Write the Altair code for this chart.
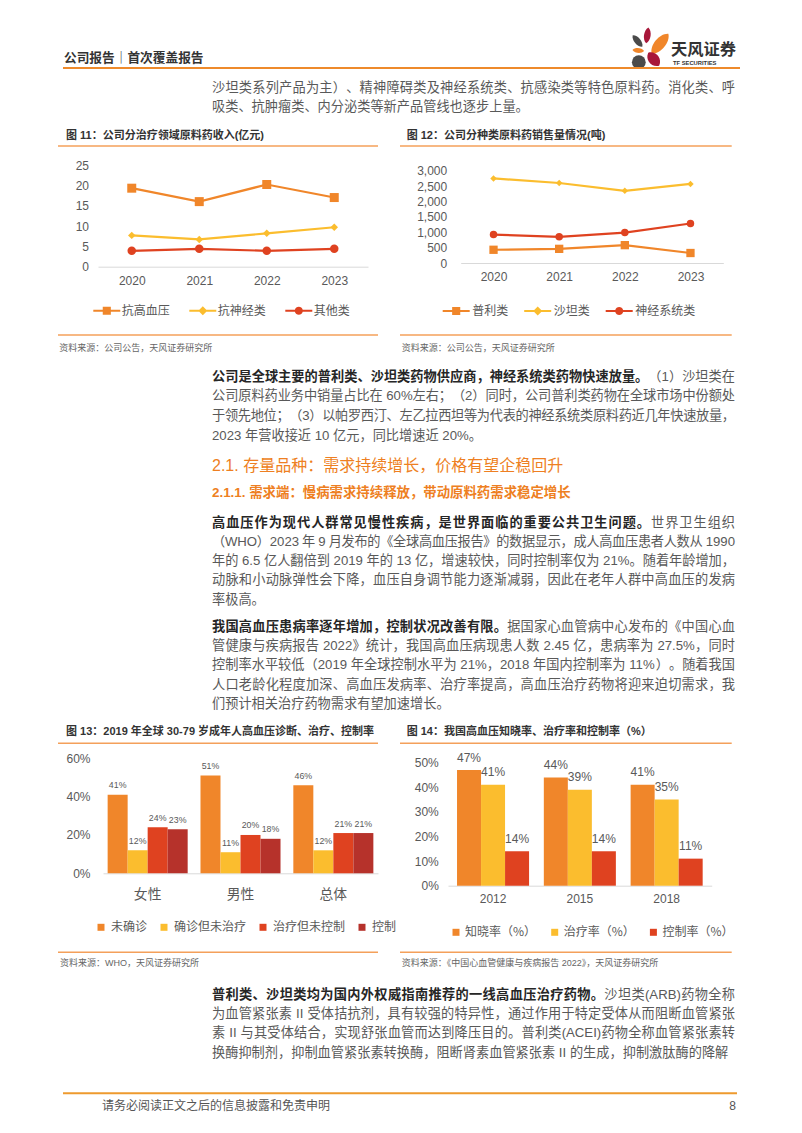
import altair as alt
import pandas as pd

# ---------------- data ----------------
years_11 = ["2020", "2021", "2022", "2023"]
series_11 = ["抗高血压", "抗神经类", "其他类"]
antihyp_11 = [19.3, 16.0, 20.2, 17.0]
antineuro_11 = [7.7, 6.7, 8.2, 9.7]
other_11 = [3.9, 4.4, 3.9, 4.4]

years_12 = ["2020", "2021", "2022", "2023"]
series_12 = ["普利类", "沙坦类", "神经系统类"]
pril_12 = [430, 460, 580, 325]
sartan_12 = [2750, 2600, 2345, 2570]
neuro_12 = [925, 850, 990, 1285]

groups_13 = ["女性", "男性", "总体"]
series_13 = ["未确诊", "确诊但未治疗", "治疗但未控制", "控制"]
undiag_13 = [41, 51, 46]
untreated_13 = [12, 11, 12]
uncontrolled_13 = [24, 20, 21]
controlled_13 = [23, 18, 21]

years_14 = ["2012", "2015", "2018"]
series_14 = ["知晓率（%）", "治疗率（%）", "控制率（%）"]
aware_14 = [47, 44, 41]
treat_14 = [41, 39, 35]
control_14 = [14, 14, 11]

# ---------------- text ----------------
HEADER = "公司报告｜首次覆盖报告"
LOGO_CN = "天风证券"
LOGO_EN = "TF SECURITIES"
TITLE_11 = "图 11：公司分治疗领域原料药收入(亿元)"
TITLE_12 = "图 12：公司分种类原料药销售量情况(吨)"
TITLE_13 = "图 13：2019 年全球 30-79 岁成年人高血压诊断、治疗、控制率"
TITLE_14 = "图 14：我国高血压知晓率、治疗率和控制率（%）"
SRC_11 = "资料来源：公司公告，天风证券研究所"
SRC_12 = "资料来源：公司公告，天风证券研究所"
SRC_13 = "资料来源：WHO，天风证券研究所"
SRC_14 = "资料来源：《中国心血管健康与疾病报告 2022》，天风证券研究所"
HEAD_21 = "2.1. 存量品种：需求持续增长，价格有望企稳回升"
HEAD_211 = "2.1.1. 需求端：慢病需求持续释放，带动原料药需求稳定增长"
FOOTER = "请务必阅读正文之后的信息披露和免责申明"
PAGE_NO = "8"

PARA_1 = ["沙坦类系列产品为主）、精神障碍类及神经系统类、抗感染类等特色原料药。消化类、呼",
          "吸类、抗肿瘤类、内分泌类等新产品管线也逐步上量。"]
PARA_2 = [("公司是全球主要的普利类、沙坦类药物供应商，神经系统类药物快速放量。", "（1）沙坦类在"),
          "公司原料药业务中销量占比在 60%左右；（2）同时，公司普利类药物在全球市场中份额处",
          "于领先地位；（3）以帕罗西汀、左乙拉西坦等为代表的神经系统类原料药近几年快速放量，",
          "2023 年营收接近 10 亿元，同比增速近 20%。"]
PARA_3 = [("高血压作为现代人群常见慢性疾病，是世界面临的重要公共卫生问题。", "世界卫生组织"),
          "（WHO）2023 年 9 月发布的《全球高血压报告》的数据显示，成人高血压患者人数从 1990",
          "年的 6.5 亿人翻倍到 2019 年的 13 亿，增速较快，同时控制率仅为 21%。随着年龄增加，",
          "动脉和小动脉弹性会下降，血压自身调节能力逐渐减弱，因此在老年人群中高血压的发病",
          "率极高。"]
PARA_4 = [("我国高血压患病率逐年增加，控制状况改善有限。", "据国家心血管病中心发布的《中国心血"),
          "管健康与疾病报告 2022》统计，我国高血压病现患人数 2.45 亿，患病率为 27.5%，同时",
          "控制率水平较低（2019 年全球控制水平为 21%，2018 年国内控制率为 11%）。随着我国",
          "人口老龄化程度加深、高血压发病率、治疗率提高，高血压治疗药物将迎来迫切需求，我",
          "们预计相关治疗药物需求有望加速增长。"]
PARA_5 = [("普利类、沙坦类均为国内外权威指南推荐的一线高血压治疗药物。", "沙坦类(ARB)药物全称"),
          "为血管紧张素 II 受体拮抗剂，具有较强的特异性，通过作用于特定受体从而阻断血管紧张",
          "素 II 与其受体结合，实现舒张血管而达到降压目的。普利类(ACEI)药物全称血管紧张素转",
          "换酶抑制剂，抑制血管紧张素转换酶，阻断肾素血管紧张素 II 的生成，抑制激肽酶的降解"]

# ---------------- styles ----------------
W, H = 786, 1117          # whole page drawing area (page minus 8px margin)
BODY = "Liberation Sans, Noto Sans CJK SC, sans-serif"
CJK = "Noto Sans CJK SC, sans-serif"
ORANGE = "#F0862A"
YELLOW = "#FBBD2E"
RED = "#DF4220"
DARKRED = "#B6322B"
AXC = "#595959"
BODYC = "#595959"
BOLDC = "#262626"
LINEC = "#F4A05A"
BSIZE = 13.2
TEXT_L, TEXT_R = 212, 735

LEAF = "M0,-1C0.55,-0.6 0.55,0.6 0,1C-0.55,0.6 -0.55,-0.6 0,-1Z"
LEAF_W = "M0,-1C0.85,-0.6 0.85,0.6 0,1C-0.85,0.6 -0.85,-0.6 0,-1Z"
LEG_SQ = "M-0.9,-0.067H-0.27V-0.27H0.27V-0.067H0.9V0.067H0.27V0.27H-0.27V0.067H-0.9Z"
LEG_DI = "M-0.9,-0.067H-0.233L0,-0.3L0.233,-0.067H0.9V0.067H0.233L0,0.3L-0.233,0.067H-0.9Z"
LEG_CI = ("M-0.9,-0.067H-0.261A0.27,0.27 0 0 1 0.261,-0.067H0.9V0.067H0.261"
          "A0.27,0.27 0 0 1 -0.261,0.067H-0.9Z")

ASCII_W = {" ": 0.278, ".": 0.278, ",": 0.278, "%": 0.889, "(": 0.333, ")": 0.333, "-": 0.333,
           "W": 0.944, "H": 0.722, "O": 0.778, "A": 0.667, "R": 0.722, "B": 0.667, "C": 0.722,
           "E": 0.667, "I": 0.278}


def textw(s, size):
    w = 0.0
    for ch in s:
        if ord(ch) < 128:
            w += 0.556 if ch.isdigit() else ASCII_W.get(ch, 0.55)
        else:
            w += 1.0
    return w * size


def tokenize(s, bold):
    toks = []
    for ch in s:
        if ch == " ":
            toks.append([None, bold])
        elif ord(ch) < 128 and toks and toks[-1][0] is not None and ord(toks[-1][0][-1]) < 128 \
                and toks[-1][1] == bold:
            toks[-1][0] += ch
        else:
            toks.append([ch, bold])
    return toks


# ---------------- page canvas (page pixel coordinates) ----------------
def cx():
    return alt.X("x:Q", scale=alt.Scale(domain=[8, 8 + W], range=[0, W], nice=False, zero=False), axis=None)


def cy():
    return alt.Y("y:Q", scale=alt.Scale(domain=[8, 8 + H], range=[0, H], nice=False, zero=False), axis=None)


def text_layer(items, size, color, weight="normal", font=BODY, align="left"):
    df = pd.DataFrame(items, columns=["x", "y", "t"])
    return alt.Chart(df).mark_text(align=align, baseline="middle", fontSize=size, color=color,
                                   fontWeight=weight, font=font).encode(x=cx(), y=cy(), text="t:N")


def rule_layer(items, color, width):
    df = pd.DataFrame(items, columns=["x", "x2", "y"])
    return alt.Chart(df).mark_rule(color=color, strokeWidth=width).encode(x=cx(), x2="x2:Q", y=cy())


def para_layers(lines, ys, size=BSIZE):
    """Lay a paragraph out token by token, justified between TEXT_L and TEXT_R like the page."""
    reg, bold = [], []
    for i, (line, y) in enumerate(zip(lines, ys)):
        parts = [(line[0], True), (line[1], False)] if isinstance(line, tuple) else [(line, False)]
        toks = []
        for s, b in parts:
            toks += tokenize(s, b)
        widths = [0.278 * size if t is None else textw(t, size) for t, _ in toks]
        natural = sum(widths)
        last = i == len(lines) - 1
        gap = 0.0 if last or len(toks) < 2 else ((TEXT_R - TEXT_L) - natural) / (len(toks) - 1)
        xpos = TEXT_L
        for (t, b), w in zip(toks, widths):
            if t is not None:
                (bold if b else reg).append((xpos, y, t))
            xpos += w + gap
    out = [text_layer(reg, size, BODYC)]
    if bold:
        out.append(text_layer(bold, size, BOLDC, weight="bold"))
    return out


# ---------------- chart builders (placed by pixel range on the page) ----------------
def line_chart(tag, years, names, vals, colors, shapes, sizes, leg_paths, ymax, yticks, ylabel_expr,
               xr, yr, xpad, ypad, legx, legy, colpad, laboff):
    fx, fs, fv = "year" + tag, "series" + tag, "value" + tag
    rows = []
    for n, vs in zip(names, vals):
        for yrv, v in zip(years, vs):
            rows.append({fx: yrv, fs: n, fv: v})
    df = pd.DataFrame(rows)
    x = alt.X(fx + ":N", sort=years,
              scale=alt.Scale(type="point", padding=0.5, range=[xr[0] - 8, xr[1] - 8]),
              axis=alt.Axis(title=None, orient="bottom", offset=(yr[0] - 8) - H, labelAngle=0,
                            ticks=False, tickSize=0, domainColor="#D9D9D9", domainWidth=1,
                            labelPadding=xpad, labelFontSize=12, labelColor=AXC, labelFont=BODY))
    y = alt.Y(fv + ":Q", scale=alt.Scale(domain=[0, ymax], nice=False, range=[yr[0] - 8, yr[1] - 8]),
              axis=alt.Axis(title=None, orient="left", offset=-(xr[0] - 8), values=yticks,
                            labelExpr=ylabel_expr, grid=False, domain=False, ticks=False, tickSize=0,
                            labelPadding=ypad, labelFontSize=12, labelColor=AXC, labelFont=BODY))
    layers = []
    for n, c in zip(names, colors):
        layers.append(alt.Chart(df).transform_filter(alt.FieldEqualPredicate(field=fs, equal=n))
                      .mark_line(color=c, strokeWidth=2.2).encode(x=x, y=y))
    for n, c, s, sz in zip(names, colors, shapes, sizes):
        layers.append(alt.Chart(df).transform_filter(alt.FieldEqualPredicate(field=fs, equal=n))
                      .mark_point(shape=s, size=sz, filled=True, color=c, opacity=1).encode(x=x, y=y))
    leg = alt.Legend(title=None, orient="none", legendX=legx - 8, legendY=legy - 8,
                     direction="horizontal", labelFont=CJK, labelFontSize=12, labelColor=AXC,
                     symbolSize=900, symbolStrokeWidth=0, columnPadding=colpad,
                     labelOffset=laboff, padding=0)
    legend_layer = alt.Chart(df).transform_filter("false").mark_point(filled=True, opacity=1).encode(
        color=alt.Color(fs + ":N", sort=names, scale=alt.Scale(domain=names, range=colors), legend=leg),
        shape=alt.Shape(fs + ":N", sort=names, scale=alt.Scale(domain=names, range=leg_paths), legend=leg))
    return alt.layer(*layers, legend_layer)


def bar_chart(tag, groups, names, vals, colors, ymax, yticks, xr, yr, pin, pout, xfont, xpad, ypad,
              lsize, ldy, legx, legy, colpad, laboff):
    fg, fs, fv = "group" + tag, "series" + tag, "value" + tag
    rows = []
    for n, vs in zip(names, vals):
        for g, v in zip(groups, vs):
            rows.append({fg: g, fs: n, fv: v})
    df = pd.DataFrame(rows)
    x = alt.X(fg + ":N", sort=groups,
              scale=alt.Scale(paddingInner=pin, paddingOuter=pout, range=[xr[0] - 8, xr[1] - 8]),
              axis=alt.Axis(title=None, orient="bottom", offset=(yr[0] - 8) - H, labelAngle=0,
                            ticks=False, tickSize=0, domainColor="#D9D9D9", labelPadding=xpad,
                            labelFontSize=xfont, labelColor=AXC, labelFont=BODY))
    xo = alt.XOffset(fs + ":N", sort=names, scale=alt.Scale(paddingInner=0, paddingOuter=0))
    y = alt.Y(fv + ":Q", scale=alt.Scale(domain=[0, ymax], nice=False, range=[yr[0] - 8, yr[1] - 8]),
              axis=alt.Axis(title=None, orient="left", offset=-(xr[0] - 8), values=yticks,
                            labelExpr="datum.value + '%'", grid=False, domain=False, ticks=False,
                            tickSize=0, labelPadding=ypad, labelFontSize=12, labelColor=AXC,
                            labelFont=BODY))
    leg = alt.Legend(title=None, orient="none", legendX=legx - 8, legendY=legy - 8,
                     direction="horizontal", symbolType="square", symbolSize=49, symbolStrokeWidth=0,
                     labelFont=CJK, labelFontSize=12, labelColor=AXC, columnPadding=colpad,
                     labelOffset=laboff, padding=0)
    bars = alt.Chart(df).mark_bar().encode(
        x=x, xOffset=xo, y=y,
        color=alt.Color(fs + ":N", sort=names, scale=alt.Scale(domain=names, range=colors), legend=leg))
    labels = alt.Chart(df).transform_calculate(lab="datum['" + fv + "'] + '%'").mark_text(
        baseline="middle", dy=ldy, fontSize=lsize, color=AXC, font=BODY).encode(
        x=x, xOffset=xo, y=y, text="lab:N")
    return alt.layer(bars, labels)


# ---------------- page text & decoration ----------------
logo_marks = pd.DataFrame([
    (637.5, 41.0, 225, 320, "#4A4A4A", LEAF),
    (647.3, 35.3, 256, 8, "#A8173A", LEAF),
    (660.0, 43.7, 676, 40, ORANGE, LEAF),
    (638.3, 50.5, 135, 95, ORANGE, LEAF),
    (638.8, 62.2, 190, 0, "#4A4A4A", "circle"),
    (653.7, 59.2, 290, 140, "#A8173A", LEAF_W),
], columns=["x", "y", "s", "a", "c", "shp"])
logo = alt.Chart(logo_marks).mark_point(filled=True, opacity=1).encode(
    x=cx(), y=cy(), size=alt.Size("s:Q", scale=None), angle=alt.Angle("a:Q", scale=None),
    color=alt.Color("c:N", scale=None), shape=alt.Shape("shp:N", scale=None))

page = alt.layer(
    # header
    text_layer([(64, 58, HEADER)], 12.7, "#333333", weight="bold"),
    logo,
    text_layer([(671, 50, LOGO_CN)], 16.3, "#333333", weight="bold"),
    text_layer([(673, 62.7, LOGO_EN)], 5.8, "#333333", weight="bold"),
    rule_layer([(63, 740, 68)], "#EE8A2B", 2),
    *para_layers(PARA_1, [88, 107]),
    # figure frames
    text_layer([(66, 135.7, TITLE_11), (406.7, 136, TITLE_12),
                (66, 731.7, TITLE_13), (406.7, 731.7, TITLE_14)], 11, "#333333", weight="bold"),
    rule_layer([(58, 378, 146), (400, 731.7, 146), (58, 378, 335), (400, 731.7, 335),
                (58, 378, 743.3), (400, 731.7, 743.3), (58, 378, 952.3), (400, 731.7, 952.3)],
               LINEC, 1.4),
    text_layer([(59.3, 348.3, SRC_11), (401.7, 348.3, SRC_12),
                (60, 963.3, SRC_13), (401.7, 963.3, SRC_14)], 9, "#666666"),
    # body
    *para_layers(PARA_2, [376.7, 396.4, 416.1, 435.8]),
    text_layer([(212, 466, HEAD_21)], 16, "#EE7F22"),
    text_layer([(212, 493, HEAD_211)], 13.4, "#EE7F22", weight="bold"),
    *para_layers(PARA_3, [522.5, 541.8, 561.1, 580.4, 599.7]),
    *para_layers(PARA_4, [626.7, 646.0, 665.3, 684.6, 703.9]),
    *para_layers(PARA_5, [995, 1014.2, 1033.4, 1052.6]),
    # footer
    rule_layer([(63, 737, 1093.3)], "#EE9A2E", 2),
    text_layer([(102, 1105.5, FOOTER)], 12, "#555555"),
    text_layer([(736, 1105.5, PAGE_NO)], 12, "#555555", align="right"),
)

c11 = line_chart("11", years_11, series_11, [antihyp_11, antineuro_11, other_11], [ORANGE, YELLOW, RED],
                 ["square", "diamond", "circle"], [81, 56, 72], [LEG_SQ, LEG_DI, LEG_CI],
                 25, [0, 5, 10, 15, 20, 25], "datum.label",
                 (98, 368), (266.7, 165), 9, 9.5, 91.8, 295.7, 17, 0)
c12 = line_chart("12", years_12, series_12, [pril_12, sartan_12, neuro_12], [ORANGE, YELLOW, RED],
                 ["square", "diamond", "circle"], [69, 42, 56], [LEG_SQ, LEG_DI, LEG_CI],
                 3000, [0, 500, 1000, 1500, 2000, 2500, 3000], "format(datum.value, ',')",
                 (460.7, 723.3), (263, 170.7), 8, 14, 441.2, 296, 13.5, 1)
c13 = bar_chart("13", groups_13, series_13, [undiag_13, untreated_13, uncontrolled_13, controlled_13],
                [ORANGE, YELLOW, RED, DARKRED], 60, [0, 20, 40, 60], (103, 378), (873.3, 758.3),
                0.138, 0.05, 13.8, 14.5, 13, 8.8, -9.5, 95, 921.3, 10, 4)
c14 = bar_chart("14", years_14, series_14, [aware_14, treat_14, control_14], [ORANGE, YELLOW, RED],
                50, [0, 10, 20, 30, 40, 50], (448, 711.7), (885.7, 762.7), 0.17, 0.104, 12, 8, 9.7,
                12, -12.5, 450, 926.3, 11.7, 3)

chart = alt.layer(page, c11, c12, c13, c14).resolve_scale(
    x="independent", y="independent", color="independent", shape="independent",
    size="independent", xOffset="independent"
).properties(width=W, height=H, padding=0, background="white").configure_view(strokeWidth=0)

chart.save("out.html", embed_options={"renderer": "svg", "actions": False})
